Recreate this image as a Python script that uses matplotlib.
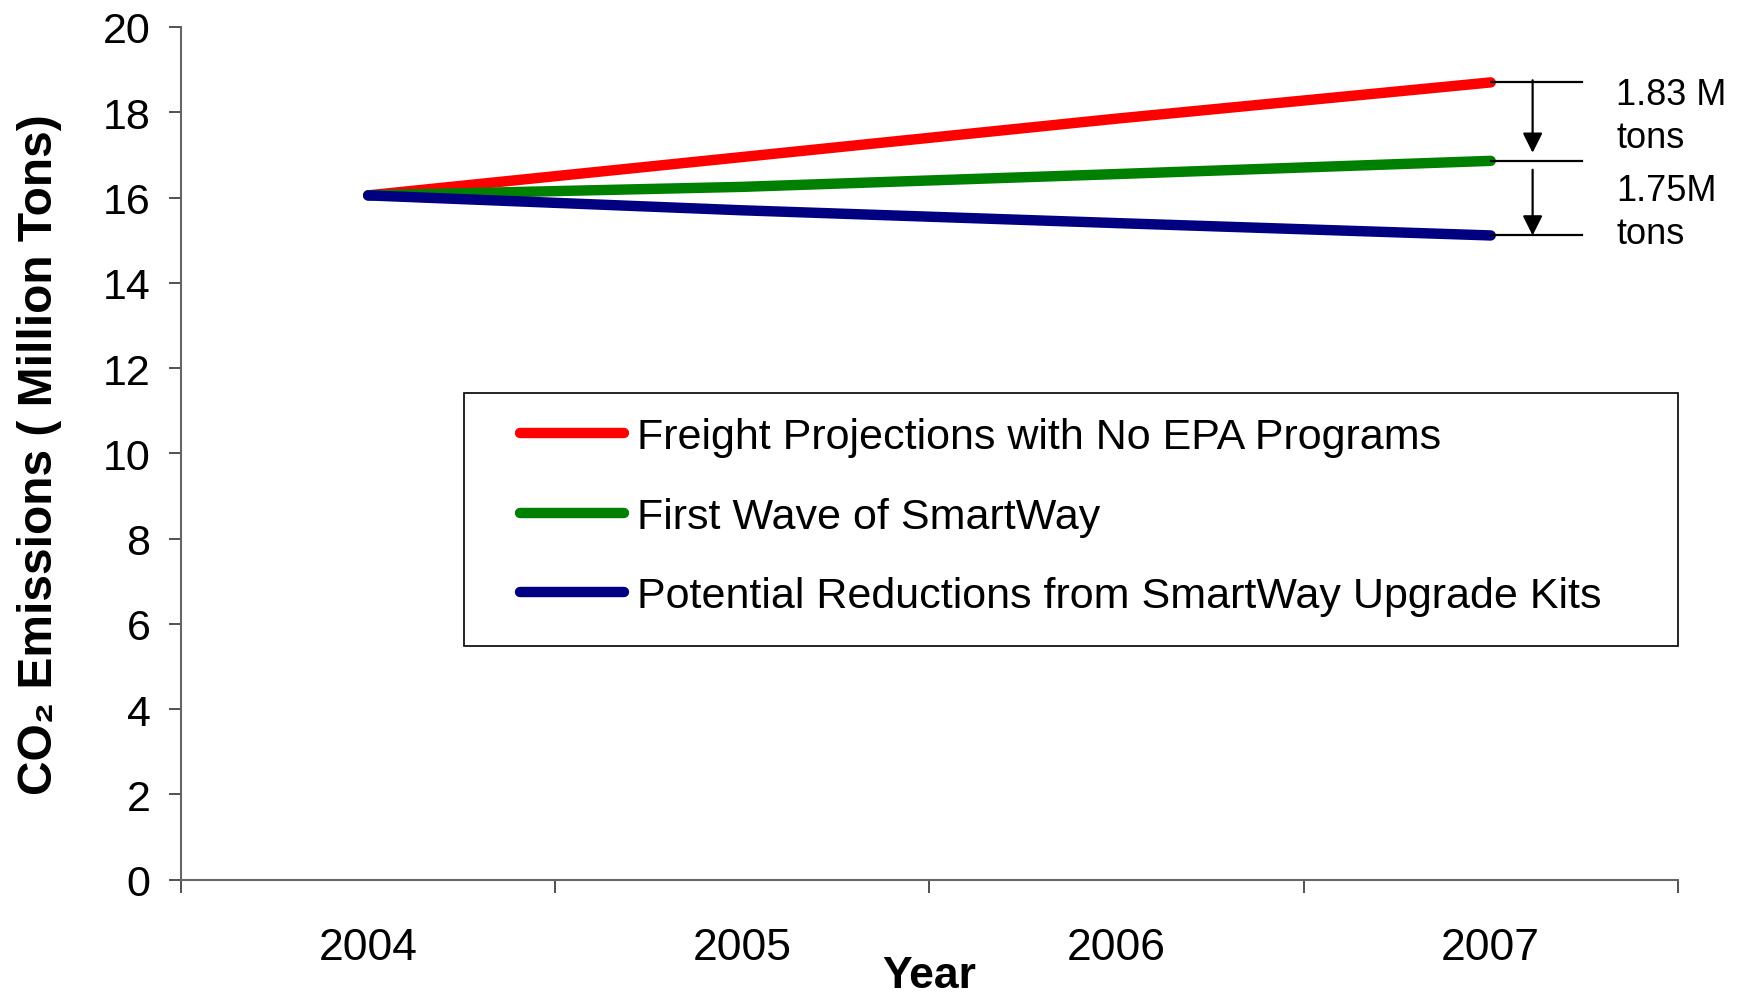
import matplotlib
matplotlib.use("Agg")
import matplotlib.pyplot as plt
from matplotlib.patches import Rectangle

plt.rcParams["font.family"] = ["Liberation Sans", "DejaVu Sans"]

YEARS = ["2004", "2005", "2006", "2007"]
NO_EPA = [16.05, 16.95, 17.85, 18.7]
FIRST_WAVE = [16.05, 16.25, 16.55, 16.86]
UPGRADE_KITS = [16.05, 15.7, 15.4, 15.11]
LABELS = ["Freight Projections with No EPA Programs",
          "First Wave of SmartWay",
          "Potential Reductions from SmartWay Upgrade Kits"]
GAP_TEXT = ["1.83 M\ntons", "1.75M\ntons"]

fig = plt.figure(figsize=(17.41, 10.03), dpi=100)
ax = fig.add_axes([0.104, 0.122, 0.8597, 0.8501])

x = list(range(len(YEARS)))
colors = ["#ff0000", "#008000", "#000080"]
series = [NO_EPA, FIRST_WAVE, UPGRADE_KITS]
handles = []
for vals, c, lab in zip(series, colors, LABELS):
    h, = ax.plot(x, vals, color=c, lw=7.5, solid_capstyle="round",
                 solid_joinstyle="round", label=lab)
    handles.append(h)

ax.set_xlim(-0.5, 3.5)
ax.set_ylim(0, 20)
ax.set_yticks(range(0, 21, 2))
ax.tick_params(axis="y", labelsize=31, length=9, width=1.2, pad=13, color="#333333")
ax.set_xticks(x)
ax.set_xticklabels(YEARS)
ax.set_xticks([-0.5, 0.5, 1.5, 2.5, 3.5], minor=True)
ax.tick_params(axis="x", which="major", length=0, labelsize=32, pad=34)
ax.tick_params(axis="x", which="minor", length=9, width=1.2, color="#333333")
for s in ["top", "right"]:
    ax.spines[s].set_visible(False)
for s in ["left", "bottom"]:
    ax.spines[s].set_color("#666666")
    ax.spines[s].set_linewidth(1.5)

ax.set_xlabel("Year", fontsize=32, fontweight="bold", labelpad=-9)
ax.set_ylabel("CO\u2082 Emissions ( Million Tons)", fontsize=34.5, fontweight="bold",
              labelpad=29)

# gap markers at the 2007 end
end = x[-1]
ends = [NO_EPA[-1], FIRST_WAVE[-1], UPGRADE_KITS[-1]]
for v in ends:
    ax.plot([end, end + 0.245], [v, v], color="black", lw=1.6, clip_on=False)
arrow = dict(arrowstyle="-|>", color="black", lw=1.6, mutation_scale=30,
             shrinkA=0, shrinkB=0)
ax.annotate("", xy=(end + 0.112, ends[1] + 0.19), xytext=(end + 0.112, ends[0] + 0.05),
            arrowprops=arrow, annotation_clip=False)
ax.annotate("", xy=(end + 0.112, ends[2]), xytext=(end + 0.112, ends[1] - 0.21),
            arrowprops=arrow, annotation_clip=False)
ax.text(end + 0.335, ends[0] - 0.78, GAP_TEXT[0], fontsize=26, va="center", ha="left",
        linespacing=1.3, clip_on=False)
ax.text(end + 0.335, ends[1] - 1.2, GAP_TEXT[1], fontsize=26, va="center", ha="left",
        linespacing=1.3, clip_on=False)

fig.patches.append(Rectangle((0.2665, 0.355), 0.6973, 0.2522, transform=fig.transFigure,
                             fill=False, edgecolor="black", lw=1.2))
fig.legend(handles=handles, loc="upper left", bbox_to_anchor=(0.2985, 0.583),
           frameon=False, fontsize=31, handlelength=2.42, handletextpad=0.3,
           labelspacing=0.92, borderpad=0, borderaxespad=0)

fig.savefig("out.png", dpi=100, facecolor="white")
